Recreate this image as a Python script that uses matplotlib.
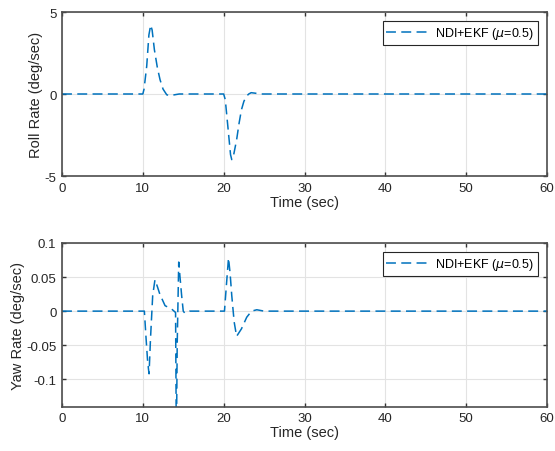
import numpy as np
import matplotlib
matplotlib.use("Agg")
import matplotlib.pyplot as plt

plt.rcParams['font.family'] = ['Liberation Sans', 'DejaVu Sans']

# roll rate response (deg/sec)
roll_t = [0, 10.0, 10.15, 10.48, 10.75, 10.97, 11.15, 11.43, 11.8, 12.13, 12.5, 12.96, 13.4, 13.9, 14.5,
          20.0, 20.2, 20.6, 20.85, 21.0, 21.2, 21.6, 21.9, 22.2, 22.5, 22.8, 23.1, 23.4, 23.9, 24.5, 60]
roll_v = [0, 0, 0.3, 1.7, 3.6, 4.2, 3.9, 2.7, 1.6, 0.87, 0.3, -0.05, -0.1, -0.05, 0,
          0, -0.35, -2.4, -3.7, -4.0, -3.8, -2.8, -1.8, -0.96, -0.45, -0.15, 0.0, 0.08, 0.05, 0, 0]

# yaw rate response (deg/sec)
yaw_t = [0, 10.19, 10.4, 10.6, 10.77, 10.95, 11.22, 11.5, 11.8, 12.1, 12.75, 13.57, 14.05,
         14.15, 14.25, 14.44, 14.6, 14.8, 15.0, 15.2, 15.8,
         20.1, 20.35, 20.6, 20.8, 21.0, 21.3, 21.6, 22.2, 22.85, 23.45, 24.1, 25, 60]
yaw_v = [0, 0, -0.04, -0.075, -0.092, -0.04, 0.023, 0.046, 0.036, 0.025, 0.008, 0.003, -0.002,
         -0.2, -0.05, 0.072, 0.05, 0.023, 0.0, -0.003, 0,
         0, 0.04, 0.078, 0.055, 0.023, -0.016, -0.037, -0.026, -0.009, 0.0, 0.002, 0, 0]

legend_label = r'NDI+EKF ($\mu$=0.5)'
line_color = '#0072BD'

fig = plt.figure(figsize=(5.55, 4.52), dpi=100)
ax1 = fig.add_axes([62 / 555, 1 - 177 / 452, 485 / 555, 164 / 452])
ax2 = fig.add_axes([62 / 555, 1 - 407.5 / 452, 485 / 555, 163.5 / 452])

panels = [
    (ax1, roll_t, roll_v, 'Roll Rate (deg/sec)', (-5, 5), [-5, 0, 5]),
    (ax2, yaw_t, yaw_v, 'Yaw Rate (deg/sec)', (-0.14, 0.1), [-0.1, -0.05, 0, 0.05, 0.1]),
]

for ax, t, v, ylab, ylim, yticks in panels:
    ax.plot(t, v, color=line_color, lw=1.1, dashes=(6.5, 3.5), label=legend_label)
    ax.set_xlim(0, 60)
    ax.set_ylim(*ylim)
    ax.set_xticks(np.arange(0, 61, 10))
    ax.set_yticks(yticks)
    ax.set_yticklabels([('%g' % y) for y in yticks])
    ax.grid(True, color='#e3e3e3', lw=0.8)
    ax.set_axisbelow(True)
    for s in ax.spines.values():
        s.set_color('#4d4d4d')
        s.set_linewidth(1.2)
    ax.tick_params(direction='in', top=True, right=True, length=3, width=1.0,
                   color='#333333', labelsize=9.5, labelcolor='#262626', pad=4)
    ax.set_xlabel('Time (sec)', fontsize=10.5, color='#262626', labelpad=1)
    ax.set_ylabel(ylab, fontsize=10.5, color='#262626', labelpad=1)
    leg = ax.legend(loc='upper right', fontsize=9, fancybox=False, framealpha=1,
                    edgecolor='#262626', handlelength=3.6, handletextpad=0.3,
                    borderpad=0.3, borderaxespad=0.75)
    leg.get_frame().set_linewidth(0.8)

fig.savefig('out.png', dpi=100)
